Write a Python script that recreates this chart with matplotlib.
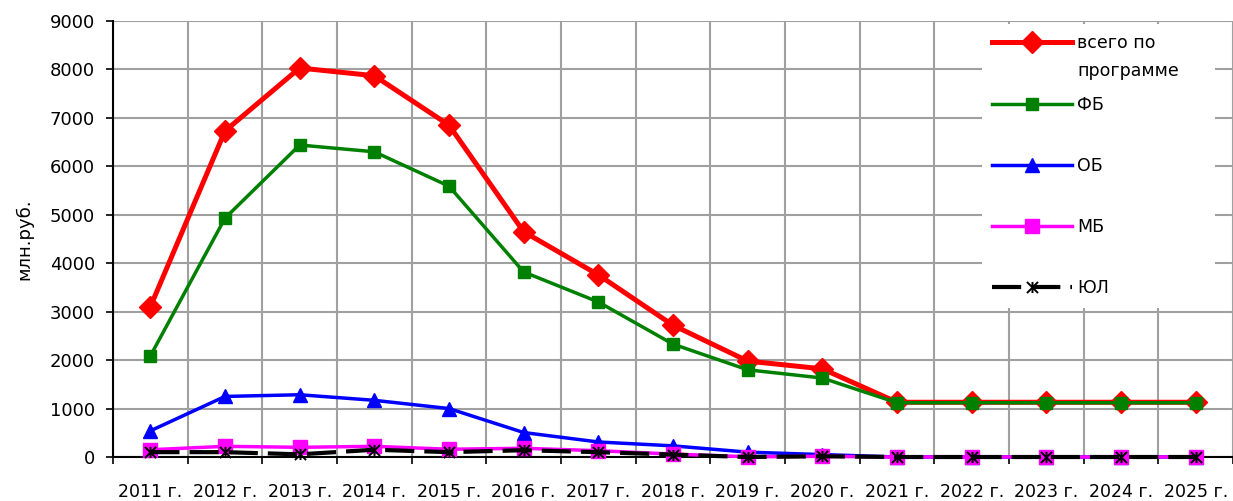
import matplotlib
matplotlib.use("Agg")
import matplotlib.pyplot as plt
import numpy as np
from matplotlib.path import Path

# ── data ─────────────────────────────────────────────────────────────────────

YEARS = [f"{y} г." for y in range(2011, 2026)]

TOTAL = [3100, 6730, 8030, 7870, 6850, 4650, 3760, 2720, 1980, 1820,
         1130, 1130, 1130, 1130, 1130]
FB = [2085, 4930, 6440, 6300, 5590, 3820, 3200, 2330, 1800, 1630,
      1120, 1120, 1120, 1120, 1120]
OB = [540, 1250, 1285, 1170, 1000, 505, 310, 230, 100, 50,
      0, 0, 0, 0, 0]
MB = [150, 220, 200, 220, 160, 180, 130, 60, 5, 15,
      0, 0, 0, 0, 0]
UL = [100, 100, 55, 150, 100, 140, 100, 50, 0, 15,
      0, 0, 0, 0, 0]

# Excel-style "star" marker: an X crossed by a vertical bar
STAR = Path(
    [(-1, -1), (1, 1), (-1, 1), (1, -1), (0, -1), (0, 1)],
    [Path.MOVETO, Path.LINETO, Path.MOVETO, Path.LINETO, Path.MOVETO, Path.LINETO],
)

plt.rcParams["font.family"] = ["DejaVu Sans"]

fig = plt.figure(figsize=(12.33, 5.01), dpi=100)
ax = fig.add_axes([113 / 1233, 1 - 457 / 501, 1 - 113 / 1233, (457 - 21) / 501])

x = np.arange(len(YEARS))

ax.plot(x, TOTAL, color="#FF0000", lw=3.6, marker="D", ms=11,
        label="всего по", clip_on=False, zorder=3)
ax.plot(x, FB, color="#008000", lw=2.5, marker="s", ms=8,
        label="ФБ", clip_on=False, zorder=4)
ax.plot(x, OB, color="#0000FF", lw=2.5, marker="^", ms=9.5,
        label="ОБ", clip_on=False, zorder=5)
ax.plot(x, MB, color="#FF00FF", lw=2.5, marker="s", ms=10,
        label="МБ", clip_on=False, zorder=6)
ax.plot(x, UL, color="black", lw=3.0, ls=(0, (7, 2.4)), marker=STAR, ms=8,
        mew=1.4, mfc="none", label="ЮЛ", clip_on=False, zorder=7)

ax.set_xlim(-0.5, len(YEARS) - 0.5)
ax.set_ylim(0, 9000)
ax.set_yticks(np.arange(0, 9001, 1000))
ax.set_xticks(x)
ax.set_xticklabels(YEARS, fontsize=12.5)
ax.set_xticks(np.arange(-0.5, len(YEARS), 1), minor=True)
ax.tick_params(axis="x", which="major", length=0, pad=19)
ax.tick_params(axis="x", which="minor", length=5, width=1.2, direction="out")
ax.tick_params(axis="y", length=5, width=1.2, labelsize=13, pad=8)

ax.grid(True, axis="y", color="#A0A0A0", lw=1.5)
ax.grid(True, axis="x", which="minor", color="#A0A0A0", lw=1.5)
ax.grid(False, axis="x", which="major")
ax.set_axisbelow(True)

ax.spines[["top", "right"]].set_visible(False)
ax.spines["left"].set_linewidth(1.5)
ax.spines["bottom"].set_linewidth(1.5)

ax.set_ylabel("млн.руб.", fontsize=13, labelpad=12)

# legend box: white, no border, stretched to the reference width
leg = ax.legend(loc="upper left", bbox_to_anchor=(0.768, 1.013, 0.2237, 0.0),
                mode="expand", fontsize=12.5,
                handlelength=4.6, handletextpad=0.3, labelspacing=2.49,
                borderpad=0.6, frameon=True, fancybox=False,
                edgecolor="none", facecolor="white", framealpha=1)
# second line of the first label, hanging below it like in Excel
ax.annotate("программе", xy=(0, 0.5), xycoords=leg.get_texts()[0],
            xytext=(0, -20.2), textcoords="offset points",
            ha="left", va="center", fontsize=12.5, zorder=10)

fig.savefig("out.png", dpi=100)
